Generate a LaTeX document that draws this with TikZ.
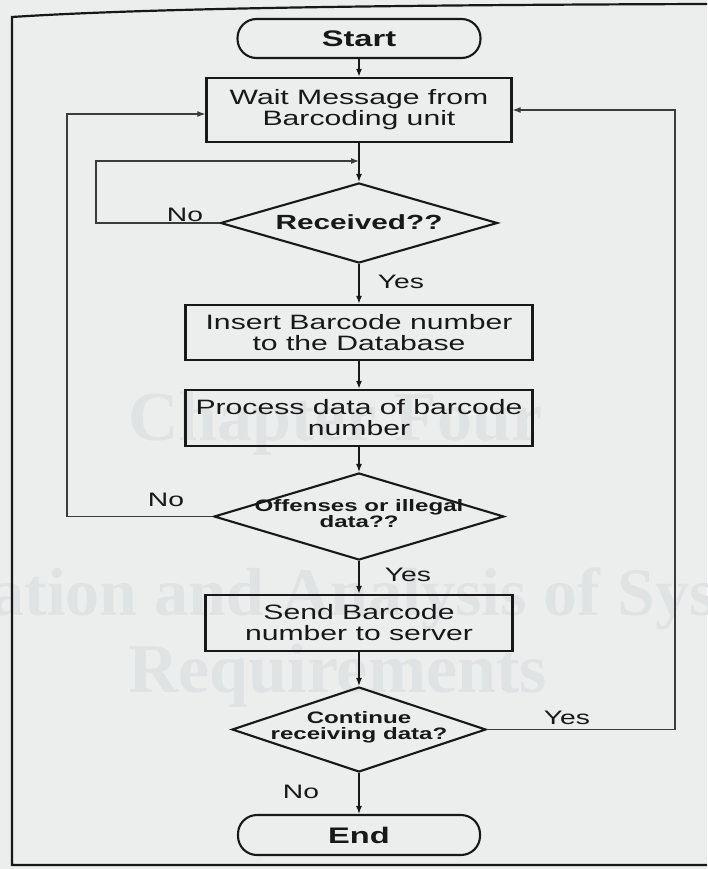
\documentclass[tikz,border=0pt]{standalone}
\usepackage{fontspec}
\setmainfont{Liberation Sans}
\newfontfamily\diagfont[FakeStretch=1.45]{Liberation Sans}
\newfontfamily\bleedfont{Liberation Serif}
\usetikzlibrary{shapes.geometric,arrows.meta}
\definecolor{paper}{RGB}{236,238,238}
\definecolor{ink}{RGB}{24,24,24}
\definecolor{bleed}{RGB}{224,227,228}
\begin{document}
\begin{tikzpicture}[x=1pt,y=-1pt,
  every node/.style={text=ink},
  boxstyle/.style={draw=ink,line width=2.3pt,rectangle,inner sep=0pt,align=center,
    font=\diagfont\fontsize{20.8}{21}\selectfont},
  termstyle/.style={draw=ink,line width=2.1pt,rectangle,rounded corners=19pt,inner sep=0pt,
    font=\diagfont\bfseries\fontsize{22.5}{24}\selectfont},
  decstyle/.style={draw=ink,line width=2.1pt,diamond,inner sep=0pt},
  dectext/.style={align=center,inner sep=0pt,font=\diagfont\bfseries\fontsize{16.6}{16}\selectfont},
  bigdectext/.style={align=center,inner sep=0pt,font=\diagfont\bfseries\fontsize{20.5}{21}\selectfont},
  lbl/.style={inner sep=0pt,font=\diagfont\fontsize{19.5}{20}\selectfont},
  bleedtext/.style={inner sep=0pt,text=bleed,font=\bleedfont\bfseries\fontsize{70}{70}\selectfont},
  flow/.style={draw=ink,line width=1.4pt,-{Latex[length=8pt,width=6pt]}},
  loopline/.style={draw=ink!85,line width=1.1pt,-{Latex[length=8pt,width=6pt]}},
]
% paper and page size
\fill[paper] (0,0) rectangle (707,869);
\useasboundingbox (0,0) rectangle (707,869);

% faint bleed-through from the next page
\node[bleedtext,anchor=base west] (bl1) at (128,440) {Chapter Four};
\node[bleedtext,anchor=base west,font=\bleedfont\bfseries\fontsize{68}{68}\selectfont] (bl2) at (-40,615) {ration and Analysis of System};
\node[bleedtext,anchor=base west] (bl3) at (128,692) {Requirements};

% outer frame
\draw[ink,line width=2.2pt] (707,4) .. controls (400,5) and (150,8) .. (12,17) -- (12,865) -- (707,865);

% nodes
\node[termstyle,minimum width=243pt,minimum height=39pt] (start) at (359,38.5) {Start};
\node[boxstyle,minimum width=305pt,minimum height=64pt] (wait) at (359,110) {Wait Message from\\Barcoding unit};
\node[decstyle,minimum width=277pt,minimum height=80pt] (rec) at (359,223) {};
\node[bigdectext] (rect) at (359,222) {Received??};
\node[boxstyle,minimum width=347pt,minimum height=55pt] (ins) at (359,332.5) {Insert Barcode number\\to the Database};
\node[boxstyle,minimum width=347pt,minimum height=56pt] (proc) at (359,418) {Process data of barcode\\number};
\node[decstyle,minimum width=290pt,minimum height=87pt] (off) at (359,516.5) {};
\node[dectext] (offt) at (359,514) {Offenses or illegal\\data??};
\node[boxstyle,minimum width=307pt,minimum height=56pt] (send) at (359,623) {Send Barcode\\number to server};
\node[decstyle,minimum width=254pt,minimum height=85pt] (cont) at (359,729.5) {};
\node[dectext] (contt) at (359,727) {Continue\\receiving data?};
\node[termstyle,minimum width=242pt,minimum height=40pt] (end) at (359,835) {End};

% labels
\node[lbl] (l1) at (185,215) {No};
\node[lbl] (l2) at (401,282) {Yes};
\node[lbl] (l3) at (166,500) {No};
\node[lbl] (l4) at (408,575) {Yes};
\node[lbl] (l5) at (567,718) {Yes};
\node[lbl] (l6) at (301,792) {No};

% main flow
\draw[flow] (start.south) -- (wait.north);
\draw[flow] (wait.south) -- (rec.north);
\draw[flow] (rec.south) -- (ins.north);
\draw[flow] (ins.south) -- (proc.north);
\draw[flow] (proc.south) -- (off.north);
\draw[flow] (off.south) -- (send.north);
\draw[flow] (send.south) -- (cont.north);
\draw[flow] (cont.south) -- (end.north);

% loops
\coordinate (j1) at (359,161);
\coordinate (c1) at (96,161);
\draw[loopline] (rec.west) -| (c1) -- (j1);
\coordinate (c2) at (67,114);
\draw[loopline] (off.west) -| (c2) -- (wait.west |- c2);
\coordinate (c3) at (675,110);
\draw[loopline] (cont.east) -| (c3) -- (wait.east |- c3);
\end{tikzpicture}
\end{document}
